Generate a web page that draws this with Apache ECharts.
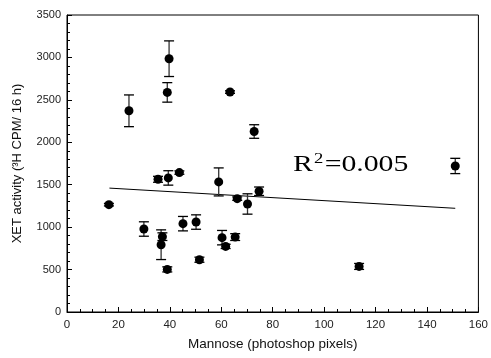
<!DOCTYPE html>
<html>
<head>
<meta charset="utf-8">
<script src="https://cdn.jsdelivr.net/npm/echarts@6/dist/echarts.min.js"></script>
<style>
html,body{margin:0;padding:0;background:#fff;}
#chart{width:491px;height:358px;}
</style>
</head>
<body>
<div id="chart"></div>
<script>
// Data
const mannose = [16.3, 24.1, 29.9, 35.4, 36.6, 37.1, 39.0, 39.0, 39.4, 39.7, 43.7, 45.1, 50.2, 51.5, 59.0, 60.3, 61.7, 63.4, 65.4, 66.2, 70.2, 72.8, 74.7, 113.6, 151.0];
const xetActivity = [1265, 2371, 978, 1564, 793, 888, 502, 2588, 1580, 2985, 1643, 1041, 1060, 616, 1533, 876, 773, 2592, 883, 1336, 1273, 2127, 1423, 537, 1721];
const xetError = [15, 187, 85, 35, 175, 45, 30, 115, 85, 210, 20, 85, 85, 30, 165, 85, 25, 15, 40, 20, 120, 80, 50, 35, 90];
const trendX = [16.5, 151];
const trendY = [1460, 1222];
const xTicks = [0, 20, 40, 60, 80, 100, 120, 140, 160];
const yTicks = [0, 500, 1000, 1500, 2000, 2500, 3000, 3500];
const rSquaredLabel = '0.005';

const points = mannose.map((x, i) => [x, xetActivity[i], xetError[i]]);
const trend = trendX.map((x, i) => [x, trendY[i]]);

const chart = echarts.init(document.getElementById('chart'));
const axisFont = 'Liberation Sans';

chart.setOption({
  animation: false,
  grid: {left: 67, right: 10, top: 15, bottom: 46, show: true, borderColor: '#000', borderWidth: 1, backgroundColor: 'transparent'},
  xAxis: {
    type: 'value', min: xTicks[0], max: xTicks[xTicks.length - 1], interval: 20,
    name: 'Mannose (photoshop pixels)', nameLocation: 'middle', nameGap: 25,
    nameTextStyle: {fontFamily: axisFont, fontSize: 13.5, color: '#111'},
    axisLine: {lineStyle: {color: '#000', width: 1}},
    axisTick: {inside: true, length: 5, lineStyle: {color: '#000'}},
    minorTick: {show: true, splitNumber: 4, length: 3, lineStyle: {color: '#000'}},
    axisLabel: {fontFamily: axisFont, fontSize: 11.5, color: '#222', margin: 7, formatter: v => String(v)},
    splitLine: {show: false}
  },
  yAxis: {
    type: 'value', min: yTicks[0], max: yTicks[yTicks.length - 1], interval: 500,
    name: 'XET activity (\u00B3H CPM/ 16 h)', nameLocation: 'middle', nameGap: 43,
    nameTextStyle: {fontFamily: axisFont, fontSize: 13, color: '#111'},
    axisLine: {show: true, lineStyle: {color: '#000', width: 1}},
    axisTick: {show: true, inside: true, length: 5, lineStyle: {color: '#000'}},
    minorTick: {show: true, splitNumber: 5, length: 3, lineStyle: {color: '#000'}},
    axisLabel: {fontFamily: axisFont, fontSize: 11, color: '#222', margin: 6, formatter: v => String(v)},
    splitLine: {show: false}
  },
  graphic: [{
    type: 'text', left: 293, top: 152, scaleX: 1.24,
    style: {
      text: 'R{s|2}=' + rSquaredLabel,
      fontSize: 24, fontFamily: 'Liberation Serif',
      fill: '#000',
      rich: {s: {fontSize: 15, fontFamily: 'Liberation Serif', fill: '#000', padding: [0, 1, 10, 1]}}
    }
  }],
  series: [
    {
      type: 'line', data: trend, symbol: 'none', z: 2,
      lineStyle: {color: '#000', width: 1}
    },
    {
      type: 'custom', data: points, z: 3,
      renderItem: function (params, api) {
        const x = api.value(0), y = api.value(1), e = api.value(2);
        const t = api.coord([x, y + e]);
        const b = api.coord([x, y - e]);
        const w = 5;
        return {
          type: 'group',
          children: [
            {type: 'line', shape: {x1: t[0], y1: t[1], x2: b[0], y2: b[1]}, style: {stroke: '#333', lineWidth: 1.3}},
            {type: 'line', shape: {x1: t[0] - w, y1: t[1], x2: t[0] + w, y2: t[1]}, style: {stroke: '#000', lineWidth: 1.3}},
            {type: 'line', shape: {x1: b[0] - w, y1: b[1], x2: b[0] + w, y2: b[1]}, style: {stroke: '#000', lineWidth: 1.3}}
          ]
        };
      }
    },
    {
      type: 'scatter', data: points, symbol: 'circle', symbolSize: 9, z: 4,
      itemStyle: {color: '#000', opacity: 1}
    }
  ]
});
</script>
</body>
</html>
